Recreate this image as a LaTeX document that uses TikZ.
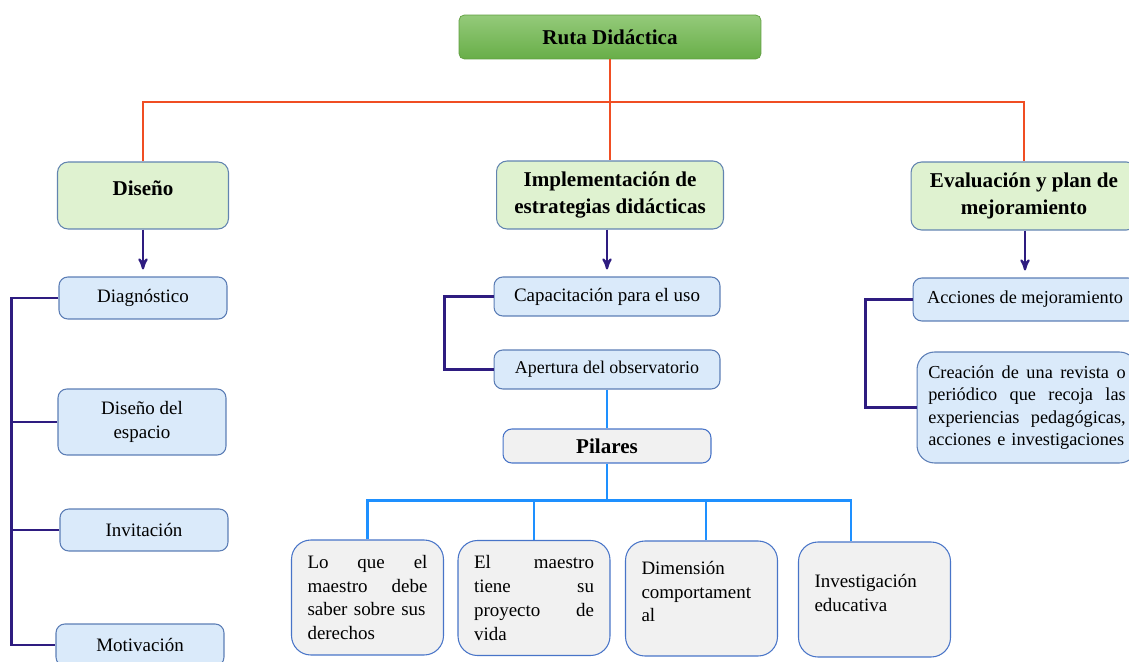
\documentclass[tikz,border=0pt]{standalone}
\usepackage{fontspec}
\setmainfont{Liberation Serif}
\usetikzlibrary{arrows}

\definecolor{treered}{RGB}{240,78,35}
\definecolor{indigo}{RGB}{46,28,128}
\definecolor{skyline}{RGB}{30,144,255}
\definecolor{roottop}{RGB}{148,202,122}
\definecolor{rootbot}{RGB}{104,174,72}
\definecolor{rootedge}{RGB}{96,158,64}
\definecolor{phasefill}{RGB}{223,242,208}
\definecolor{phaseedge}{RGB}{98,132,176}
\definecolor{itemfill}{RGB}{218,234,250}
\definecolor{itemedge}{RGB}{92,126,182}
\definecolor{pillarfill}{RGB}{241,241,241}
\definecolor{pillaredge}{RGB}{72,116,200}

\begin{document}
\begin{tikzpicture}[x=0.02cm,y=-0.02cm,>=stealth',
    root/.style={draw=rootedge,top color=roottop,bottom color=rootbot,rounded corners=3pt,
      minimum width=6.04cm,minimum height=0.88cm,font=\fontsize{12}{15}\selectfont\bfseries},
    phase/.style={draw=phaseedge,fill=phasefill,rounded corners=6pt,line width=0.6pt,
      align=center,font=\fontsize{12}{15.3}\selectfont\bfseries},
    item/.style={draw=itemedge,fill=itemfill,rounded corners=5pt,line width=0.6pt,
      align=center,font=\fontsize{10.8}{13.6}\selectfont},
    pilares/.style={item,draw=pillaredge,fill=pillarfill,font=\fontsize{12}{15}\selectfont\bfseries},
    pillar/.style={draw=pillaredge,fill=pillarfill,rounded corners=11pt,line width=0.6pt,
      minimum width=3.04cm,minimum height=2.3cm,text width=2.4cm,align=left,
      font=\fontsize{10.8}{13.6}\selectfont},
    tree/.style={draw=treered,line width=1.1pt},
    bracket/.style={draw=indigo,line width=1.2pt},
    link/.style={->,draw=indigo,line width=1.2pt,shorten >=4pt},
    branch/.style={draw=skyline,line width=1.5pt}]
  \useasboundingbox (0,0) rectangle (1129,662);
  \clip (0,0) rectangle (1129,662);

  \node[root] (ruta) at (610,37) {Ruta Didáctica};

  \node[phase,minimum width=3.42cm,minimum height=1.34cm] (diseno) at (143,195.5)
    {Diseño\\[-7.3pt]\mbox{}};
  \node[phase,minimum width=4.54cm,minimum height=1.36cm] (implementacion) at (610,195)
    {Implementación de\\estrategias didácticas};
  \node[phase,minimum width=4.52cm,minimum height=1.36cm] (evaluacion) at (1024,196)
    {Evaluación y plan de\\mejoramiento};

  \node[item,minimum width=3.36cm,minimum height=0.84cm] (diagnostico) at (143,298) {Diagnóstico};
  \node[item,minimum width=3.36cm,minimum height=1.32cm] (espacio) at (142,422) {Diseño del\\espacio};
  \node[item,minimum width=3.36cm,minimum height=0.84cm] (invitacion) at (144,530) {Invitación};
  \node[item,minimum width=3.36cm,minimum height=0.84cm] (motivacion) at (140,645) {Motivación};

  \node[item,minimum width=4.52cm,minimum height=0.78cm] (capacitacion) at (607,296.5)
    {Capacitación para el uso};
  \node[item,minimum width=4.52cm,minimum height=0.78cm,font=\fontsize{10.2}{13}\selectfont]
    (apertura) at (607,369.5) {Apertura del observatorio};
  \node[pilares,minimum width=4.16cm,minimum height=0.68cm] (pilares) at (607,446) {Pilares};

  \node[pillar] (derechos) at (367.5,597.5)
    {Lo \hfill que \hfill el\\maestro \hfill debe\\saber sobre sus\\derechos};
  \node[pillar] (proyecto) at (534,598)
    {El \hfill maestro\\tiene \hfill su\\proyecto \hfill de\\vida};
  \node[pillar] (dimension) at (701.5,598.5)
    {Dimensión\\comportament\\al\\[-5.6pt]\mbox{}};
  \node[pillar] (investigacion) at (874.5,599.5)
    {Investigación\\educativa\\[-5.6pt]\mbox{}};

  \node[item,minimum width=4.48cm,minimum height=0.86cm,font=\fontsize{10.4}{13}\selectfont]
    (acciones) at (1025,299.5) {Acciones de mejoramiento};
  \node[item,rounded corners=10pt,minimum width=4.4cm,minimum height=2.22cm,text width=3.95cm,
    align=left,font=\fontsize{10.4}{12.8}\selectfont] (creacion) at (1027,407.5)
    {Creación \hfill de \hfill una \hfill revista \hfill o\\periódico \hfill que \hfill recoja \hfill las\\experiencias \hfill pedagógicas,\\acciones e investigaciones};

  \draw[tree] (ruta.south) -- ++(0,43) coordinate (hub);
  \draw[tree] (diseno.north) |- (hub) -| (evaluacion.north);
  \draw[tree] (hub) -- (implementacion.north);

  \draw[link] (diseno.south) -- (diseno.south |- diagnostico.north);
  \draw[link] (implementacion.south -| capacitacion.north) -- (capacitacion.north);
  \draw[link] (evaluacion.south -| acciones.north) -- (acciones.north);

  \draw[bracket] (diagnostico.west) -- ++(-47,0) coordinate (left) |- (motivacion.west);
  \draw[bracket] (espacio.west) -- (espacio.west -| left);
  \draw[bracket] (invitacion.west) -- (invitacion.west -| left);
  \draw[bracket] (capacitacion.west) -- ++(-49,0) |- (apertura.west);
  \draw[bracket] (acciones.west) -- ++(-47,0) |- (creacion.west);

  \draw[branch] (apertura.south) -- (pilares.north);
  \draw[branch] (pilares.south) -- ++(0,37) coordinate (bus);
  \draw[branch] (derechos.north) |- (bus) -| ([xshift=-0.47cm]investigacion.north);
  \draw[branch] (proyecto.north) -- (proyecto.north |- bus);
  \draw[branch] ([xshift=0.09cm]dimension.north) -- ([xshift=0.09cm]dimension.north |- bus);
\end{tikzpicture}
\end{document}
